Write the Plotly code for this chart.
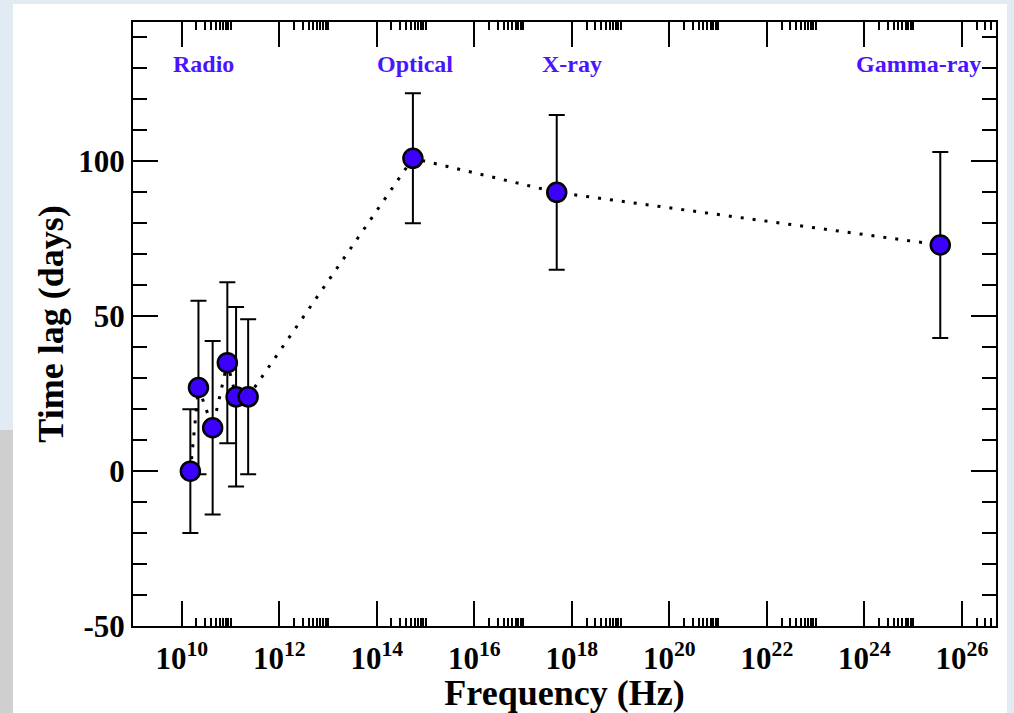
import math
import plotly.graph_objects as go

# Data (frequency in Hz, time lag in days)
freq = [1.5e10, 2.2e10, 4.3e10, 8.6e10, 1.3e11, 2.3e11, 5.5e14, 4.9e17, 3.6e25]
lag = [0, 27, 14, 35, 24, 24, 101, 90, 73]
err_plus = [20, 28, 28, 26, 29, 25, 21, 25, 30]
err_minus = [20, 28, 28, 26, 29, 25, 21, 25, 30]

band_labels = ["Radio", "Optical", "X-ray", "Gamma-ray"]
band_x = [10 ** 10.44, 10 ** 14.78, 10 ** 18.0, 10 ** 25.11]
band_y = [131.5, 131.5, 131.5, 131.5]

major_exp = [10, 12, 14, 16, 18, 20, 22, 24, 26]
tick_vals = [10.0 ** e for e in major_exp]
tick_text = ["10<sup>%d</sup>" % e for e in major_exp]
minor_vals = [k * 10.0 ** e for e in major_exp for k in range(2, 11) if k * 10.0 ** e <= 5e26]

y_tick_vals = [-50, 0, 50, 100]
y_tick_text = ["-50", "0", "50", "100"]

W, H = 1014, 713
L, R, T, B = 133, 18, 22, 87
pw = W - L - R
ph = H - T - B

serif = "Liberation Serif, Times New Roman, serif"
blue_fill = "#3c00ff"
blue_text = "#4a14ff"

fig = go.Figure()

fig.add_trace(go.Scatter(
    x=freq, y=lag, mode="lines",
    line=dict(color="black", width=3, dash="3px,9px"),
    hoverinfo="skip", showlegend=False,
))

fig.add_trace(go.Scatter(
    x=freq, y=lag, mode="markers",
    marker=dict(size=19, color=blue_fill, line=dict(color="black", width=2.5)),
    error_y=dict(type="data", symmetric=False, array=err_plus, arrayminus=err_minus,
                 color="black", thickness=2, width=8),
    showlegend=False,
))

for txt, xv, yv in zip(band_labels, band_x, band_y):
    fig.add_annotation(x=math.log10(xv), y=yv, xref="x", yref="y",
                       text=txt, showarrow=False,
                       font=dict(family=serif, size=24, color=blue_text, weight="bold"))

# page background: white card on light slide background
fig.add_shape(type="rect", xref="paper", yref="paper", layer="below",
              x0=(13 - L) / pw, x1=(1007 - L) / pw,
              y0=-0.3, y1=(H - B - 4) / ph,
              fillcolor="white", line=dict(width=0))
fig.add_shape(type="rect", xref="paper", yref="paper", layer="below",
              x0=(0 - L) / pw, x1=(13 - L) / pw,
              y0=(H - B - 713) / ph, y1=(H - B - 430) / ph,
              fillcolor="#cfcfcf", line=dict(width=0))

axis_common = dict(
    showgrid=False, zeroline=False, showline=True, linecolor="black", linewidth=2,
    mirror="ticks", ticks="inside", tickcolor="black", tickwidth=2, ticklen=25,
    tickfont=dict(family=serif, size=31, color="black", weight="bold"),
)

fig.update_xaxes(
    type="log", range=[9, 26.699],
    tickmode="array", tickvals=tick_vals, ticktext=tick_text,
    ticklabelstandoff=4,
    minor=dict(tickmode="array", tickvals=minor_vals, ticks="inside", ticklen=8,
               tickwidth=1.5, tickcolor="black", showgrid=False),
    title=dict(text="Frequency (Hz)", font=dict(family=serif, size=36, color="black", weight="bold"),
               standoff=2),
    **axis_common,
)
fig.update_yaxes(
    range=[-50, 145],
    tickmode="array", tickvals=y_tick_vals, ticktext=y_tick_text,
    minor=dict(dtick=10, tick0=0, ticks="inside", ticklen=14, tickwidth=2,
               tickcolor="black", showgrid=False),
    title=dict(text="Time lag (days)", font=dict(family=serif, size=36, color="black", weight="bold"),
               standoff=4),
    **axis_common,
)

fig.update_layout(
    width=W, height=H,
    margin=dict(l=L, r=R, t=T, b=B, autoexpand=False),
    paper_bgcolor="#e2eaf4",
    plot_bgcolor="white",
    showlegend=False,
)

fig.write_html("out.html")
